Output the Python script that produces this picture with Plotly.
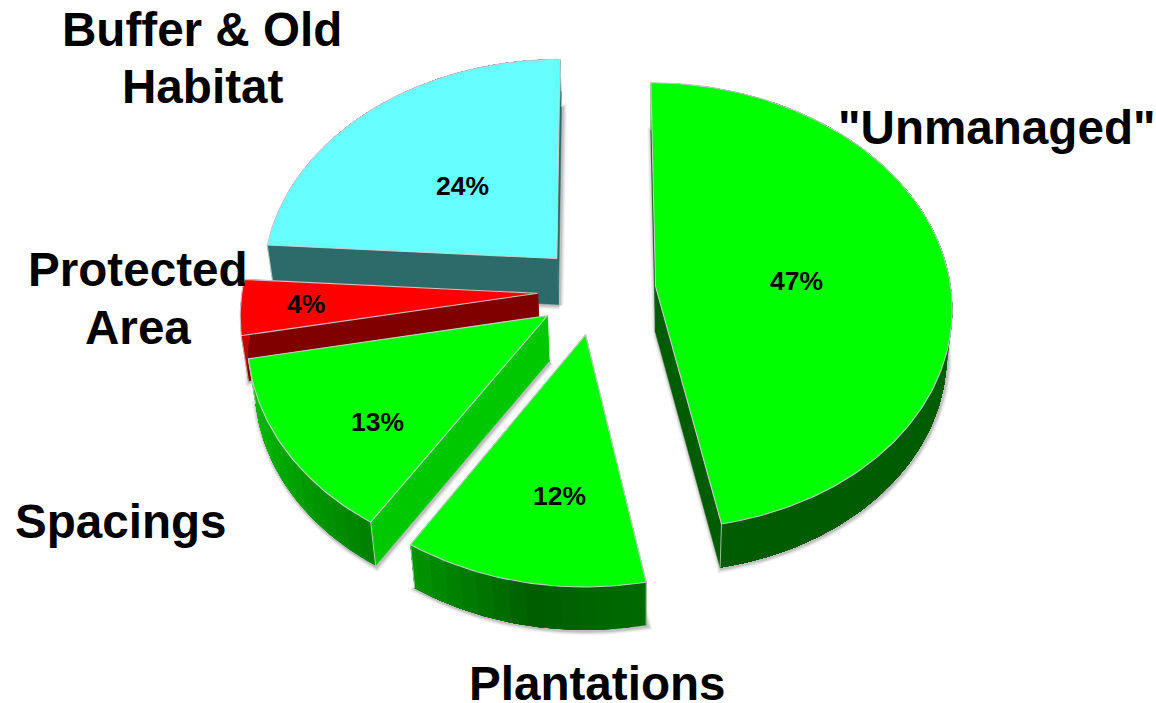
import numpy as np
import plotly.graph_objects as go

# Land-base shares, clockwise from 12 o'clock
categories = ["\"Unmanaged\"", "Plantations", "Spacings", "Protected Area", "Buffer & Old Habitat"]
shares = [47, 12, 13, 4, 24]

# Fill colours for each slice: top face, cut wall, and rim stops (rim position 0..1, rgb)
top_colours = ["#00FF00", "#00FF00", "#00FF00", "#FF0000", "#66FFFF"]
cut_colours = ["#005C00", "#005C00", "#00C800", "#800000", "#2D6B6B"]
rim_stops = [
    [(0.0, (0, 92, 0)), (1.0, (0, 92, 0))],
    [(0.0, (0, 108, 0)), (0.45, (0, 94, 0)), (1.0, (0, 150, 0))],
    [(0.0, (0, 128, 0)), (0.5, (0, 165, 0)), (1.0, (0, 195, 0))],
    [(0.0, (200, 0, 0)), (1.0, (200, 0, 0))],
    [(0.0, (45, 107, 107)), (1.0, (45, 107, 107))],
]
draw_order = [4, 3, 2, 1, 0]

# Projection of the tilted disc onto the page
CX, CY = 596.8, 290.5
AX, AY = 295.6, 222.0
VIEW_DIST = 11.5
EXPLODE = 0.2
FLOOR_SCALE = 0.982
VANISH_X = 645.0


def project(u, v):
    s = 1.0 / (1.0 - v / VIEW_DIST)
    return CX + AX * u * s, CY + AY * v * s


def drop(x, y):
    # the underside sits slightly nearer the centre, and a little shallower toward the front
    return VANISH_X + (x - VANISH_X) * FLOOR_SCALE, y + 46.0 - (y - 258.0) * 0.009


def poly(x, y, fill, line="rgba(0,0,0,0)", width=0.0):
    return go.Scatter(x=list(x), y=list(y), mode="lines", fill="toself", fillcolor=fill,
                      line=dict(color=line, width=width), hoverinfo="skip")


fig = go.Figure()
fractions = np.array(shares) / sum(shares)
edges = np.concatenate([[0.0], np.cumsum(fractions)]) * 2 * np.pi

for i in draw_order:
    a0, a1 = edges[i], edges[i + 1]
    mid = (a0 + a1) / 2
    ou, ov = EXPLODE * np.sin(mid), -EXPLODE * np.cos(mid)
    n = max(8, int(np.degrees(a1 - a0)))
    th = np.linspace(a0, a1, n + 1)
    arc_x, arc_y = project(ou + np.sin(th), ov - np.cos(th))
    apex_x, apex_y = project(np.array([ou]), np.array([ov]))
    top_x = np.concatenate([apex_x, arc_x, apex_x])
    top_y = np.concatenate([apex_y, arc_y, apex_y])
    bot_x, bot_y = drop(top_x, top_y)

    # soft drop shadow round the underside
    for w, alpha in [(9, 0.05), (7, 0.07), (5, 0.10), (3, 0.16)]:
        fig.add_trace(go.Scatter(x=bot_x + 1, y=bot_y + 1, mode="lines",
                                 line=dict(color=f"rgba(70,70,70,{alpha})", width=w),
                                 hoverinfo="skip"))

    # radial cut walls
    for ex, ey in [(arc_x[0], arc_y[0]), (arc_x[-1], arc_y[-1])]:
        bx, by = drop(np.array([apex_x[0], ex]), np.array([apex_y[0], ey]))
        fig.add_trace(poly([apex_x[0], ex, bx[1], bx[0], apex_x[0]],
                           [apex_y[0], ey, by[1], by[0], apex_y[0]],
                           cut_colours[i], cut_colours[i], 0.5))

    # rim: each shaded band runs on to the end of the arc so the next band paints over its seam
    fx, fy = drop(arc_x, arc_y)
    pos = [p for p, _ in rim_stops[i]]
    step = 3
    for k in range(0, n, step):
        t = (k + step / 2) / n
        rgb = [int(np.interp(t, pos, [c[j] for _, c in rim_stops[i]])) for j in range(3)]
        col = f"rgb({rgb[0]},{rgb[1]},{rgb[2]})"
        fig.add_trace(poly(np.concatenate([arc_x[k:], fx[k:][::-1]]),
                           np.concatenate([arc_y[k:], fy[k:][::-1]]),
                           col))

    # light corner edges of the wall
    for ex, ey, bx, by in [(arc_x[0], arc_y[0], fx[0], fy[0]), (arc_x[-1], arc_y[-1], fx[-1], fy[-1])]:
        fig.add_trace(go.Scatter(x=[ex, bx], y=[ey, by], mode="lines",
                                 line=dict(color="rgba(205,225,205,0.75)", width=1),
                                 hoverinfo="skip"))

    # top face
    fig.add_trace(poly(top_x, top_y, top_colours[i], "rgba(205,205,205,0.95)", 1.1))

# Category captions, one annotation per line
caption_lines = [
    ("Buffer & Old", 202, 29.5), ("Habitat", 202, 86.5),
    ("\"Unmanaged\"", 997, 127.5), ("Protected", 138, 269.5), ("Area", 138, 327.5),
    ("Spacings", 121, 521.5), ("Plantations", 597, 683.5),
]
# Share labels, in the same order as the shares list
share_label_x = [796, 559, 377, 306, 462]
share_label_y = [281, 495.5, 422, 304, 186]

annotations = [dict(x=x, y=y, text=t, showarrow=False, xanchor="center", yanchor="middle",
                    font=dict(family="Liberation Sans", size=47.6, color="black", weight="bold"))
               for t, x, y in caption_lines]
annotations += [dict(x=x, y=y, text=f"<b>{v}%</b>", showarrow=False, xanchor="center", yanchor="middle",
                     font=dict(family="Liberation Sans", size=26.5, color="black"))
                for v, x, y in zip(shares, share_label_x, share_label_y)]

fig.update_layout(
    width=1156, height=703, autosize=False,
    margin=dict(l=0, r=0, t=0, b=0),
    paper_bgcolor="white", plot_bgcolor="white",
    showlegend=False, hovermode=False,
    xaxis=dict(range=[0, 1156], visible=False, fixedrange=True),
    yaxis=dict(range=[703, 0], visible=False, fixedrange=True),
    annotations=annotations,
)
fig.write_html("out.html", config=dict(displayModeBar=False))
